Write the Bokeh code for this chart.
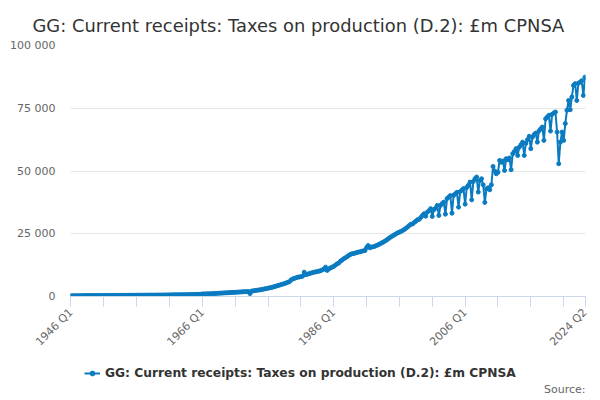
from bokeh.plotting import figure
from bokeh.layouts import column
from bokeh.models import Range1d, FixedTicker, Label, Legend, LegendItem
from bokeh.embed import file_html
from bokeh.resources import INLINE

# chart texts
title_text = "GG: Current receipts: Taxes on production (D.2): £m CPNSA"
series_name = "GG: Current receipts: Taxes on production (D.2): £m CPNSA"
source_text = "Source:"

first_year = 1946

# quarterly values, £m (one row per year, Q1..Q4)
values = [
    290, 300, 305, 310,          # 1946
    320, 335, 340, 345,          # 1947
    360, 370, 375, 380,          # 1948
    380, 385, 390, 390,          # 1949
    390, 395, 400, 405,          # 1950
    410, 420, 425, 430,          # 1951
    430, 435, 440, 445,          # 1952
    445, 450, 455, 460,          # 1953
    460, 465, 470, 475,          # 1954
    480, 490, 495, 500,          # 1955
    505, 510, 515, 520,          # 1956
    525, 530, 540, 545,          # 1957
    545, 550, 555, 560,          # 1958
    560, 565, 570, 580,          # 1959
    590, 600, 610, 620,          # 1960
    630, 645, 655, 665,          # 1961
    680, 690, 700, 710,          # 1962
    715, 725, 735, 745,          # 1963
    760, 780, 795, 810,          # 1964
    830, 850, 870, 890,          # 1965
    1000, 1020, 1040, 1060,      # 1966
    1080, 1110, 1140, 1170,      # 1967
    1210, 1260, 1300, 1340,      # 1968
    1380, 1420, 1450, 1480,      # 1969
    1520, 1560, 1600, 1640,      # 1970
    1680, 1720, 1760, 1800,      # 1971
    1840, 1880, 1920, 1960,      # 1972
    2000, 1150, 2150, 2250,      # 1973
    2350, 2450, 2550, 2650,      # 1974
    2750, 2900, 3050, 3150,      # 1975
    3300, 3450, 3600, 3750,      # 1976
    3950, 4150, 4350, 4550,      # 1977
    4750, 4950, 5150, 5400,      # 1978
    5650, 5900, 6600, 7000,      # 1979
    7200, 7450, 7650, 7800,      # 1980
    7900, 8100, 9700, 8700,      # 1981
    8900, 9100, 9300, 9500,      # 1982
    9700, 9800, 9950, 10100,     # 1983
    10300, 10600, 10900, 11700,  # 1984
    10400, 11000, 11400, 11700,  # 1985
    12000, 12500, 13000, 13300,  # 1986
    14000, 14500, 15000, 15400,  # 1987
    15800, 16300, 16700, 17000,  # 1988
    17100, 17300, 17500, 17700,  # 1989
    17800, 18000, 18200, 18300,  # 1990
    19500, 20300, 19400, 19700,  # 1991
    19800, 20000, 20300, 20600,  # 1992
    20900, 21300, 21600, 22000,  # 1993
    22400, 22900, 23400, 23800,  # 1994
    24200, 24600, 25000, 25400,  # 1995
    25600, 26000, 26300, 26700,  # 1996
    27200, 27700, 28300, 28800,  # 1997
    28900, 29500, 30000, 30600,  # 1998
    30700, 31500, 32300, 33000,  # 1999
    32000, 33600, 34200, 35000,  # 2000
    31900, 34600, 35200, 36300,  # 2001
    32300, 36300, 37000, 37600,  # 2002
    32800, 39000, 39600, 40200,  # 2003
    33200, 40300, 40900, 41500,  # 2004
    35600, 41800, 42300, 43000,  # 2005
    36800, 43500, 44300, 45600,  # 2006
    38500, 45800, 46900, 47600,  # 2007
    41600, 46200, 46900, 44500,  # 2008
    37500, 42900, 43300, 42500,  # 2009
    44500, 51800, 50000, 48900,  # 2010
    49500, 54200, 53500, 54000,  # 2011
    50200, 54900, 54500, 55200,  # 2012
    50500, 56900, 57800, 58900,  # 2013
    56200, 59500, 60500, 61500,  # 2014
    56200, 61000, 62500, 63800,  # 2015
    58900, 63500, 64500, 65100,  # 2016
    61500, 66000, 66800, 67500,  # 2017
    62200, 70800, 71500, 72200,  # 2018
    65900, 72600, 73100, 73500,  # 2019
    65500, 52900, 61500, 65500,  # 2020
    62200, 68900, 74200, 78100,  # 2021
    74400, 79500, 84100, 84800,  # 2022
    78100, 85000, 85400, 86000,  # 2023
    80100, 87400,                # 2024
]

quarters = ["%d Q%d" % (first_year + k // 4, k % 4 + 1) for k in range(len(values))]

# axis ticks
y_ticks = [0, 25000, 50000, 75000, 100000]
y_tick_labels = ["0", "25 000", "50 000", "75 000", "100 000"]
x_tick_quarters = ["1946 Q1", "1951 Q1", "1956 Q1", "1961 Q1", "1966 Q1", "1971 Q1",
                   "1976 Q1", "1981 Q1", "1986 Q1", "1991 Q1", "1996 Q1", "2001 Q1",
                   "2006 Q1", "2011 Q1", "2016 Q1", "2021 Q1", "2024 Q2"]
x_labelled = ["1946 Q1", "1966 Q1", "1986 Q1", "2006 Q1", "2024 Q2"]

blue = "#0b7bc1"
font = "DejaVu Sans"
W = 600

xs = list(range(len(values)))
n = len(values)

# main chart
p = figure(width=W, height=356, output_backend="svg", toolbar_location=None,
           x_range=Range1d(-0.3, n - 1 + 0.3), y_range=Range1d(0, 100000),
           min_border_left=70, min_border_right=15, min_border_top=45, min_border_bottom=60)
p.outline_line_color = None

p.title.text = title_text
p.title.align = "left"
p.title.offset = -38
p.title.standoff = 19
p.title.text_font = font
p.title.text_font_size = "17.9px"
p.title.text_font_style = "normal"
p.title.text_color = "#333333"

p.xgrid.grid_line_color = None
p.ygrid.grid_line_color = "#e6e6e6"
p.ygrid.ticker = FixedTicker(ticks=y_ticks)

p.yaxis.ticker = FixedTicker(ticks=y_ticks)
p.yaxis.major_label_overrides = dict(zip(y_ticks, y_tick_labels))
p.yaxis.axis_line_color = None
p.yaxis.major_tick_line_color = None
p.yaxis.major_tick_out = 0
p.yaxis.minor_tick_line_color = None
p.yaxis.major_label_standoff = 15
p.yaxis.major_label_text_font = font
p.yaxis.major_label_text_font_size = "11px"
p.yaxis.major_label_text_color = "#666666"

x_tick_pos = [quarters.index(q) for q in x_tick_quarters]
p.xaxis.ticker = FixedTicker(ticks=x_tick_pos)
p.xaxis.major_label_overrides = {quarters.index(q): (q if q in x_labelled else "")
                                 for q in x_tick_quarters}
p.xaxis.axis_line_color = "#ccd6eb"
p.xaxis.major_tick_line_color = "#ccd6eb"
p.xaxis.major_tick_out = 10
p.xaxis.major_tick_in = 0
p.xaxis.minor_tick_line_color = None
p.xaxis.major_label_orientation = 0.785398
p.xaxis.major_label_standoff = 4
p.xaxis.major_label_text_font = font
p.xaxis.major_label_text_font_size = "11px"
p.xaxis.major_label_text_color = "#666666"

p.line(xs, values, line_width=2, color=blue)
p.scatter(xs, values, size=4, color=blue)

# legend and source strip (its frame lines up with the main frame, 70..585);
# the series is drawn again here only to feed the legend, outside this strip's ranges
leg_h = 44
p_leg = figure(width=W, height=leg_h, output_backend="svg", toolbar_location=None,
               x_range=Range1d(-2, -1), y_range=Range1d(-2, -1),
               x_axis_location=None, y_axis_location=None, min_border=0)
p_leg.outline_line_color = None
p_leg.grid.visible = False
leg_line = p_leg.line(xs, values, line_width=2, color=blue)
leg_pts = p_leg.scatter(xs, values, size=5, color=blue)
legend = Legend(items=[LegendItem(label=series_name, renderers=[leg_line, leg_pts])],
                location=(14, 20), orientation="horizontal", padding=0, margin=0,
                border_line_color=None, background_fill_alpha=0,
                label_text_font=font, label_text_font_style="bold",
                label_text_font_size="12.25px", label_text_color="#333333",
                glyph_width=16, glyph_height=12, label_standoff=5, label_height=14)
p_leg.add_layout(legend)
p_leg.add_layout(Label(x=515, y=11, x_units="screen", y_units="screen",
                       text=source_text, text_align="right", text_baseline="middle",
                       text_font=font, text_font_size="11px", text_color="#666666"))

layout = column(p, p_leg, spacing=0)
open("out.html", "w").write(file_html(layout, INLINE))
